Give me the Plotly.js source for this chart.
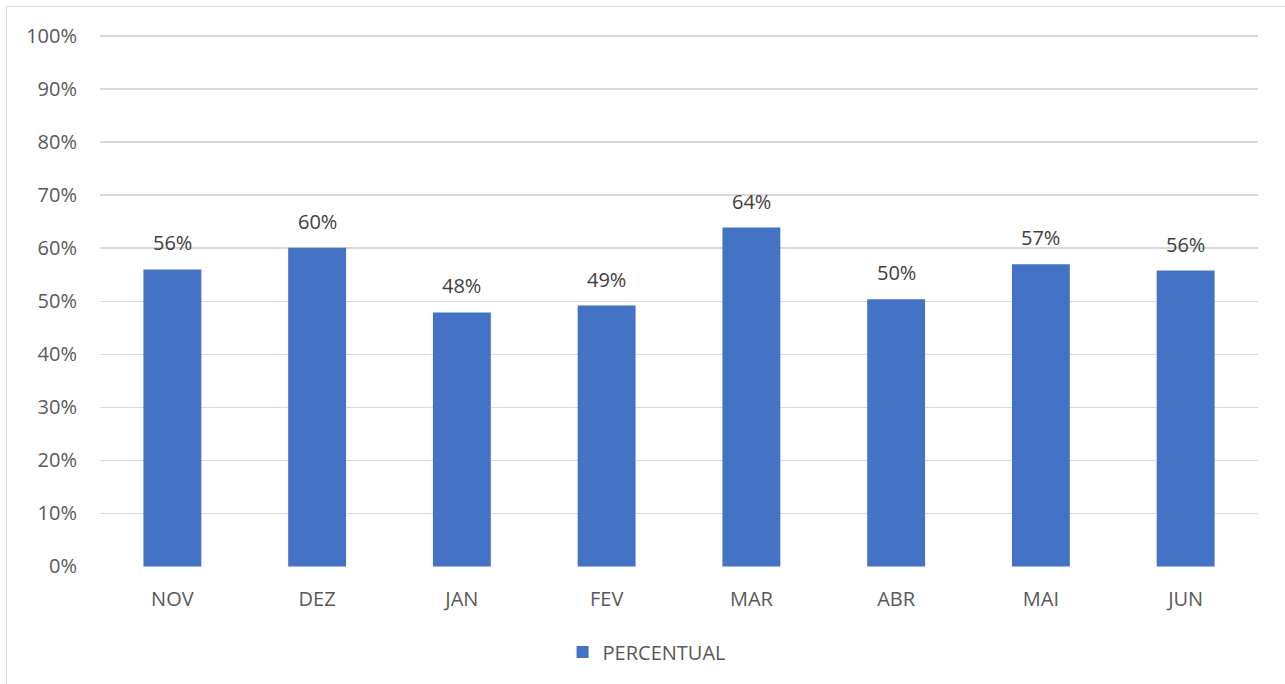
<!DOCTYPE html>
<html>
<head>
<meta charset="utf-8">
<script src="https://cdn.plot.ly/plotly-3.0.1.min.js"></script>
<style>
html,body{margin:0;padding:0;background:#fff;overflow:hidden;}
#frame{position:absolute;left:6px;top:6px;width:1300px;height:700px;border:1px solid #d9d9d9;box-sizing:border-box;pointer-events:none;z-index:10;}
#chart{position:absolute;left:0;top:0;width:1285px;height:684px;}
</style>
</head>
<body>
<div id="chart"></div>
<div id="frame"></div>
<script>
const months = ["NOV","DEZ","JAN","FEV","MAR","ABR","MAI","JUN"];
const percentual = [0.56, 0.60, 0.48, 0.49, 0.64, 0.50, 0.57, 0.56];
const barHeights = [0.560, 0.601, 0.479, 0.492, 0.639, 0.504, 0.570, 0.558];
const labels = percentual.map(v => Math.round(v*100) + "%");
const yTicks = [0,0.1,0.2,0.3,0.4,0.5,0.6,0.7,0.8,0.9,1.0];
const yTickText = yTicks.map(v => Math.round(v*100) + "%");

const font = "Open Sans, Noto Sans, sans-serif";
const annotations = months.map((m, i) => ({
  x: m, y: barHeights[i], xref: "x", yref: "y",
  text: labels[i], showarrow: false, yanchor: "bottom", yshift: 11,
  font: {family: font, size: 20, color: "#404040"}
}));
Plotly.newPlot("chart", [{
  type: "bar",
  name: "PERCENTUAL",
  x: months,
  y: barHeights,
  width: 0.4,
  marker: {color: "#4472C4"},
  hoverinfo: "none"
}], {
  width: 1285, height: 684,
  margin: {l: 100, r: 27, t: 35, b: 117},
  paper_bgcolor: "#fff", plot_bgcolor: "#fff",
  showlegend: true,
  legend: {orientation: "h", x: 0.472, xanchor: "center", y: -0.16, yanchor: "middle",
           itemwidth: 30,
           font: {family: font, size: 20, color: "#595959"}},
  xaxis: {type: "category", showgrid: false, zeroline: false, showline: false,
          ticks: "", tickfont: {family: font, size: 20, color: "#595959"}, ticklabelstandoff: 18},
  yaxis: {range: [-0.001, 1.002], tickvals: yTicks, ticktext: yTickText, showgrid: true,
          gridcolor: "#d9d9d9", gridwidth: 1.5, zeroline: false, showline: false, ticks: "",
          tickfont: {family: font, size: 20, color: "#595959"}, ticklabelstandoff: 22},
  annotations: annotations
}, {staticPlot: true});
</script>
</body>
</html>
